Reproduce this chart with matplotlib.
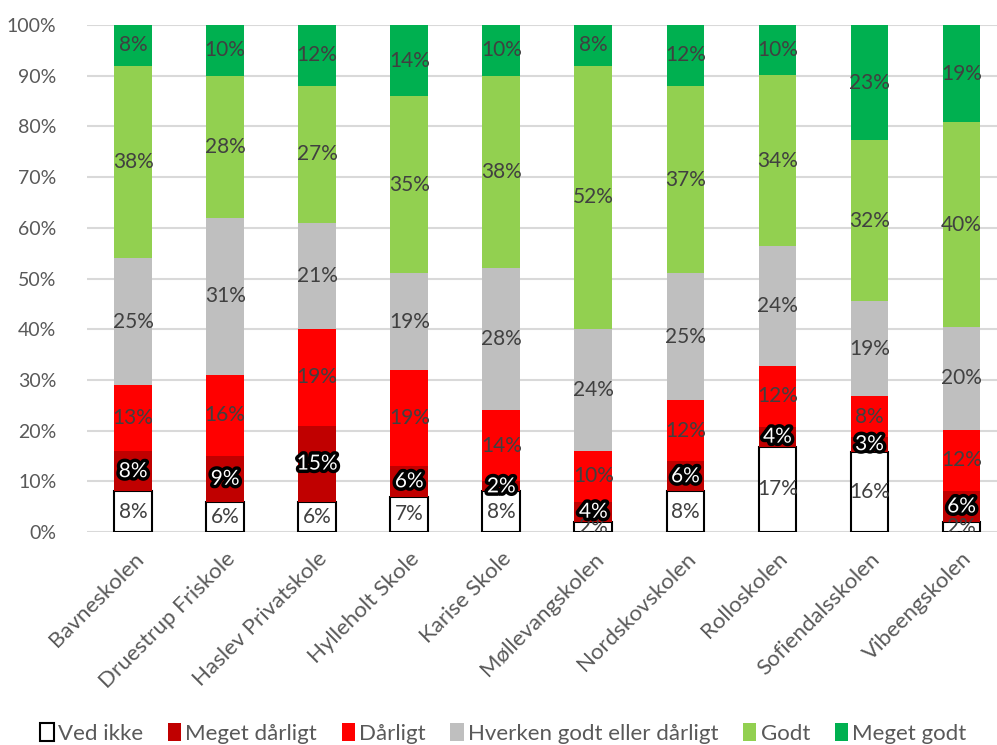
import matplotlib
import numpy as np
import matplotlib.patheffects as pe
from matplotlib import pyplot as plt
from matplotlib.patches import Patch

matplotlib.rcParams['font.family'] = ['Lato', 'DejaVu Sans']

schools = ['Bavneskolen', 'Druestrup Friskole', 'Haslev Privatskole', 'Hylleholt Skole',
           'Karise Skole', 'Møllevangskolen', 'Nordskovskolen', 'Rolloskolen',
           'Sofiendalsskolen', 'Vibeengskolen']
categories = ['Ved ikke', 'Meget dårligt', 'Dårligt', 'Hverken godt eller dårligt', 'Godt', 'Meget godt']

ved_ikke = [8, 6, 6, 7, 8, 2, 8, 17, 16, 2]
meget_daarligt = [8, 9, 15, 6, 2, 4, 6, 4, 3, 6]
daarligt = [13, 16, 19, 19, 14, 10, 12, 12, 8, 12]
hverken = [25, 31, 21, 19, 28, 24, 25, 24, 19, 20]
godt = [38, 28, 27, 35, 38, 52, 37, 34, 32, 40]
meget_godt = [8, 10, 12, 14, 10, 8, 12, 10, 23, 19]

colors = ['white', '#C00000', '#FF0000', '#BFBFBF', '#92D050', '#00B050']

series = np.array([ved_ikke, meget_daarligt, daarligt, hverken, godt, meget_godt], dtype=float)
totals = series.sum(axis=0)
shares = series / totals * 100

fig = plt.figure(figsize=(9.97, 7.45), dpi=100)
ax = fig.add_axes([0.0873, 0.2859, 0.9233, 0.6805])

x = np.arange(len(schools))
bottom = np.zeros(len(schools))
for i, (name, color) in enumerate(zip(categories, colors)):
    if i == 0:
        ax.bar(x, shares[i], 0.41, bottom=bottom, color=color, edgecolor='black', linewidth=1.5, zorder=3)
    else:
        ax.bar(x, shares[i], 0.41, bottom=bottom, color=color, linewidth=0, zorder=3)
    for j in range(len(schools)):
        y = bottom[j] + shares[i][j] / 2
        label = f'{int(series[i][j])}%'
        if i == 1:
            ax.text(x[j], y, label, ha='center', va='center', fontsize=15, color='white', zorder=5,
                    path_effects=[pe.withStroke(linewidth=5, foreground='black')])
        else:
            ax.text(x[j], y, label, ha='center', va='center', fontsize=15, color='#404040', zorder=5,
                    clip_on=True)
    bottom += shares[i]

ax.set_xlim(-0.5, len(schools) - 0.5)
ax.set_ylim(0, 100)
ax.set_yticks(np.arange(0, 101, 10))
ax.set_yticklabels([f'{v}%' for v in range(0, 101, 10)])
ax.set_xticks(x)
ax.set_xticklabels(schools, rotation=45, ha='right', va='top', rotation_mode='anchor')
ax.tick_params(axis='y', length=0, pad=22, labelsize=14, labelcolor='#595959')
ax.tick_params(axis='x', length=0, pad=12, labelsize=16, labelcolor='#595959')
ax.grid(True, axis='y', color='#D9D9D9', linewidth=1.5, zorder=0)
ax.set_axisbelow(True)
for s in ax.spines.values():
    s.set_visible(False)

handles = [Patch(facecolor=c, edgecolor='black' if c == 'white' else c, linewidth=1.5 if c == 'white' else 0)
           for c in colors]
fig.legend(handles, categories, loc='center', bbox_to_anchor=(0.505, 0.016), ncol=6, frameon=False,
           fontsize=16, handlelength=0.6, handleheight=0.9, handletextpad=0.2, columnspacing=1.1,
           labelcolor='#595959')

plt.savefig('out.png', dpi=100)
plt.close()
